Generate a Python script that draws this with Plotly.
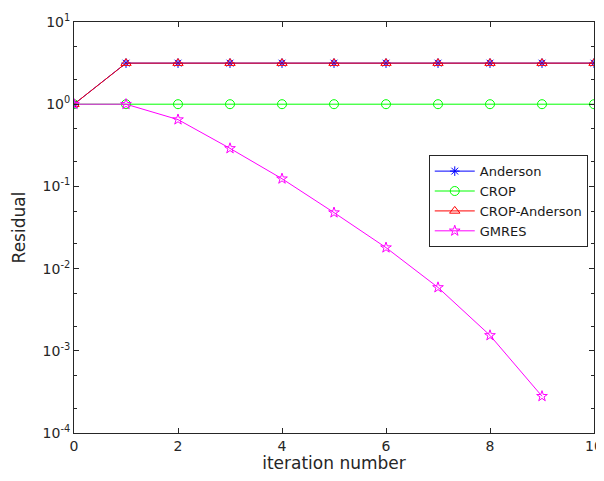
import plotly.graph_objects as go

iterations = [0, 1, 2, 3, 4, 5, 6, 7, 8, 9, 10]
gmres_iter = [0, 1, 2, 3, 4, 5, 6, 7, 8, 9]
anderson = [1.0, 3.16, 3.16, 3.16, 3.16, 3.16, 3.16, 3.16, 3.16, 3.16, 3.16]
crop = [1.0, 1.0, 1.0, 1.0, 1.0, 1.0, 1.0, 1.0, 1.0, 1.0, 1.0]
crop_anderson = [1.0, 3.16, 3.16, 3.16, 3.16, 3.16, 3.16, 3.16, 3.16, 3.16, 3.16]
gmres = [1.0, 1.0, 0.65, 0.29, 0.124, 0.048, 0.018, 0.0059, 0.00154, 0.00028]

y_tick_vals = [1e-4, 1e-3, 1e-2, 1e-1, 1e0, 1e1]
y_tick_text = ["10<sup>-4</sup>", "10<sup>-3</sup>", "10<sup>-2</sup>",
               "10<sup>-1</sup>", "10<sup>0</sup>", "10<sup>1</sup>"]
x_tick_vals = [0, 2, 4, 6, 8, 10]

fig = go.Figure()
series = [
    ("Anderson", iterations, anderson, "#0000FF", "asterisk-open", 8),
    ("CROP", iterations, crop, "#00FF00", "circle-open", 9),
    ("CROP-Anderson", iterations, crop_anderson, "#FF0000", "triangle-up-open", 9),
    ("GMRES", gmres_iter, gmres, "#FF00FF", "star-open", 8),
]
for name, xs, ys, col, sym, sz in series:
    fig.add_trace(go.Scatter(
        x=xs, y=ys, name=name, mode="lines+markers",
        line=dict(color=col, width=1),
        marker=dict(symbol=sym, size=sz, color=col, line=dict(color=col, width=1)),
    ))

axis_col = "#262626"
fig.update_layout(
    width=596, height=465,
    margin=dict(l=66, r=10, t=14, b=40),
    paper_bgcolor="white", plot_bgcolor="white",
    font=dict(family="DejaVu Sans", color=axis_col, size=14),
    showlegend=True,
    legend=dict(
        x=0.988, y=0.676, xanchor="right", yanchor="top",
        bgcolor="white", bordercolor="#262626", borderwidth=1,
        font=dict(size=13, color="#1a1a1a"),
        tracegroupgap=0, itemwidth=40,
    ),
    xaxis=dict(
        range=[0, 10], tickvals=x_tick_vals,
        showgrid=False, zeroline=False, automargin=False,
        showline=True, linecolor=axis_col, linewidth=1, mirror="allticks",
        ticks="inside", ticklen=5, tickcolor=axis_col,
        title=dict(text="iteration number", font=dict(size=17), standoff=7),
        tickfont=dict(size=14),
    ),
    yaxis=dict(
        type="log", range=[-4, 1],
        tickvals=y_tick_vals, ticktext=y_tick_text,
        showgrid=False, zeroline=False, automargin=False,
        showline=True, linecolor=axis_col, linewidth=1, mirror="allticks",
        ticks="inside", ticklen=5, tickcolor=axis_col,
        minor=dict(ticks="inside", ticklen=3, tickcolor=axis_col, showgrid=False),
        title=dict(text="Residual", font=dict(size=17), standoff=12),
        tickfont=dict(size=14),
    ),
)

fig.write_html("out.html")
